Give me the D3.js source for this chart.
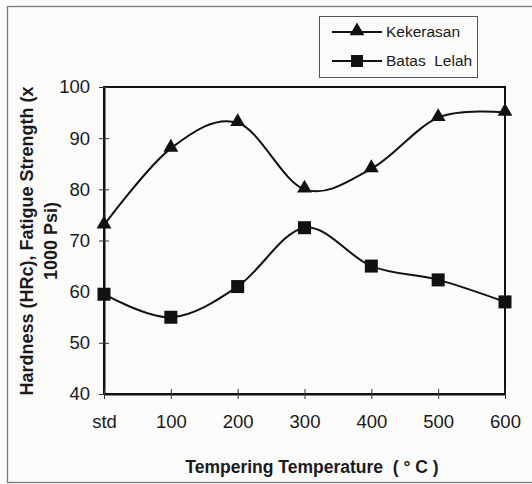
<!DOCTYPE html>
<html>
<head>
<meta charset="utf-8">
<script src="https://cdn.jsdelivr.net/npm/d3@7"></script>
<style>
html,body{margin:0;padding:0;background:#fbfbfa;}
svg{display:block;font-family:"Liberation Sans",Arial,sans-serif;}
</style>
</head>
<body>
<svg id="chart" width="532" height="484"></svg>
<script>
const categories = ["std","100","200","300","400","500","600"];
const kekerasan = [73, 88, 93, 80, 84, 94, 95];
const batasLelah = [59.5, 55, 61, 72.5, 65, 62.3, 58];
const yTicks = [40,50,60,70,80,90,100];
const seriesNames = ["Kekerasan","Batas\u00a0\u00a0Lelah"];

const svg = d3.select("#chart");
const W = 532, H = 484;
const m = {left:104, right:505, top:87, bottom:394};

svg.append("rect").attr("x",0).attr("y",0).attr("width",W).attr("height",H).attr("fill","#fbfbfa");
// outer frame
svg.append("rect").attr("x",7.5).attr("y",6.5).attr("width",W+10).attr("height",476)
  .attr("fill","none").attr("stroke","#777").attr("stroke-width",1.3);

const x = d3.scalePoint().domain(categories).range([m.left,m.right]);
const y = d3.scaleLinear().domain([40,100]).range([m.bottom,m.top]);

// plot box
svg.append("rect").attr("x",m.left).attr("y",m.top).attr("width",m.right-m.left).attr("height",m.bottom-m.top)
  .attr("fill","none").attr("stroke","#111").attr("stroke-width",2);

// y axis
const yAxis = d3.axisLeft(y).tickValues(yTicks).tickSizeInner(5).tickSizeOuter(0).tickPadding(8);
const gy = svg.append("g").attr("transform",`translate(${m.left},0)`).call(yAxis);
gy.select(".domain").attr("stroke","#111").attr("stroke-width",2);
gy.selectAll(".tick line").attr("x2",5).attr("x1",-5).attr("stroke","#333").attr("stroke-width",1);
gy.selectAll(".tick text").attr("x",-14).attr("font-size",18.5).attr("fill","#1a1a1a").attr("font-family","Liberation Sans, Arial, sans-serif");

// x axis
const xAxis = d3.axisBottom(x).tickSizeInner(5).tickSizeOuter(0).tickPadding(8);
const gx = svg.append("g").attr("transform",`translate(0,${m.bottom})`).call(xAxis);
gx.select(".domain").attr("stroke","#111").attr("stroke-width",2);
gx.selectAll(".tick line").attr("y1",-5).attr("y2",5).attr("stroke","#333").attr("stroke-width",1);
gx.selectAll(".tick text").attr("y",21).attr("font-size",18.5).attr("fill","#1a1a1a").attr("font-family","Liberation Sans, Arial, sans-serif");

// lines
const line = d3.line().x((d,i)=>x(categories[i])).y(d=>y(d)).curve(d3.curveCardinal);
[kekerasan,batasLelah].forEach(s=>{
  svg.append("path").datum(s).attr("d",line).attr("fill","none").attr("stroke","#111").attr("stroke-width",2);
});

// markers
const tri = d3.symbol().type(d3.symbolTriangle).size(95);
svg.append("g").selectAll("path").data(kekerasan).join("path")
  .attr("d",tri).attr("transform",(d,i)=>`translate(${x(categories[i])},${y(d)-1})`).attr("fill","#111");
svg.append("g").selectAll("rect").data(batasLelah).join("rect")
  .attr("x",(d,i)=>x(categories[i])-6.5).attr("y",d=>y(d)-6.5).attr("width",13).attr("height",13).attr("fill","#111");

// legend
const lg = svg.append("g");
lg.append("rect").attr("x",319.5).attr("y",16.5).attr("width",158).attr("height",61)
  .attr("fill","#fbfbfa").attr("stroke","#555").attr("stroke-width",1);
const rows = [32,61];
rows.forEach((ry,i)=>{
  lg.append("line").attr("x1",332).attr("x2",382).attr("y1",ry).attr("y2",ry).attr("stroke","#111").attr("stroke-width",2);
  if(i===0){
    lg.append("path").attr("d",tri).attr("transform",`translate(357,${ry-1})`).attr("fill","#111");
  } else {
    lg.append("rect").attr("x",351).attr("y",ry-6).attr("width",12).attr("height",12).attr("fill","#111");
  }
  lg.append("text").attr("x",386).attr("y",ry).attr("dy","0.35em").attr("font-size",15.5).attr("fill","#1a1a1a").text(seriesNames[i]);
});

// axis titles
svg.append("text").attr("x",312).attr("y",467).attr("text-anchor","middle").attr("dy","0.35em")
  .attr("font-size",17.5).attr("font-weight","bold").attr("fill","#1a1a1a")
  .text("Tempering Temperature\u00a0\u00a0( \u00b0 C )");
const yt = svg.append("text").attr("transform","translate(27,241) rotate(-90)").attr("text-anchor","middle")
  .attr("font-size",18).attr("font-weight","bold").attr("fill","#1a1a1a");
yt.append("tspan").attr("x",0).attr("dy","0.35em").text("Hardness (HRc), Fatigue Strength (x");
yt.append("tspan").attr("x",0).attr("dy","1.3em").text("1000 Psi)");
</script>
</body>
</html>
